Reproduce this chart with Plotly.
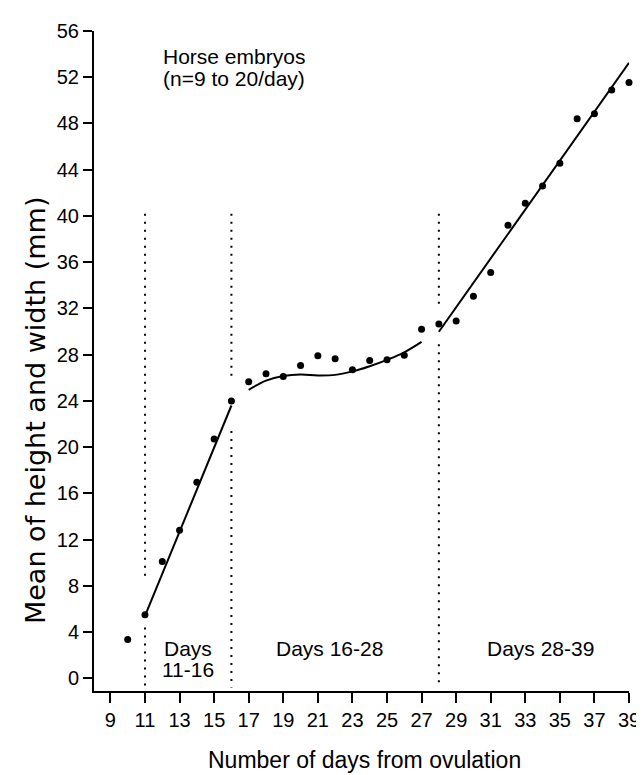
import plotly.graph_objects as go

# Mean embryo size per day
days = [10, 11, 12, 13, 14, 15, 16, 17, 18, 19, 20, 21, 22, 23, 24, 25, 26, 27,
        28, 29, 30, 31, 32, 33, 34, 35, 36, 37, 38, 39]
mean_size = [3.35, 5.5, 10.1, 12.8, 16.95, 20.7, 24.0, 25.65, 26.35, 26.1, 27.05, 27.9,
             27.65, 26.7, 27.5, 27.55, 27.95, 30.2, 30.65, 30.9, 33.05, 35.1, 39.2, 41.1,
             42.6, 44.55, 48.4, 48.85, 50.9, 51.55]

# Fitted lines/curve
fit1_days = [11, 16]
fit1_vals = [5.4, 23.6]
fit2_days = [17, 18, 19, 20, 21, 22, 23, 24, 25, 26, 27]
fit2_vals = [24.96, 25.75, 26.15, 26.28, 26.2, 26.25, 26.55, 27.0, 27.55, 28.2, 29.1]
fit3_days = [28, 39]
fit3_vals = [29.98, 53.25]

# Period boundaries (dotted lines): top, gap bottom, gap top, bottom
bound_days = [11, 16, 28]
bound_top = 40.2
bound_gap_low = [4.4, 21.4, 28.9]
bound_gap_high = [8.6, 26.1, 32.3]
bound_bottom = -0.8

x_ticks = list(range(9, 40, 2))
y_ticks = list(range(0, 57, 4))

FONT = "Liberation Sans, Arial, Helvetica, sans-serif"
YFONT = "DejaVu Sans, Liberation Sans, sans-serif"

fig = go.Figure()

# dotted boundary lines
for d, lo, hi in zip(bound_days, bound_gap_low, bound_gap_high):
    fig.add_trace(go.Scatter(
        x=[d, d, None, d, d], y=[bound_top, hi, None, lo, bound_bottom],
        mode="lines", line=dict(color="black", width=2, dash="2px,6px"),
        hoverinfo="skip", showlegend=False))

for fx, fy, shape in [(fit1_days, fit1_vals, "linear"), (fit2_days, fit2_vals, "spline"),
                      (fit3_days, fit3_vals, "linear")]:
    fig.add_trace(go.Scatter(x=fx, y=fy, mode="lines", line=dict(color="black", width=2, shape=shape),
                             showlegend=False, cliponaxis=False))

fig.add_trace(go.Scatter(x=days, y=mean_size, mode="markers",
                         marker=dict(color="black", size=7), showlegend=False, cliponaxis=False))

axis_common = dict(showline=True, linecolor="black", linewidth=2, ticks="outside",
                   tickwidth=2, tickcolor="black", showgrid=False, zeroline=False,
                   tickfont=dict(family=FONT, size=20, color="black"))

fig.update_xaxes(range=[8.05, 39], tickvals=x_ticks, ticklen=10, **axis_common)
fig.update_yaxes(range=[-1.1, 56], tickvals=y_ticks, ticklen=9, **axis_common)

TXT = dict(family=FONT, size=21, color="black")
ann = []
ann.append(dict(x=11.9, y=53.8, xref="x", yref="y", text="Horse embryos", showarrow=False,
                xanchor="left", yanchor="middle", font=TXT))
ann.append(dict(x=11.9, y=51.9, xref="x", yref="y", text="(n=9 to 20/day)", showarrow=False,
                xanchor="left", yanchor="middle", font=TXT))
ann.append(dict(x=13.5, y=2.6, xref="x", yref="y", text="Days", showarrow=False,
                xanchor="center", yanchor="middle", font=TXT))
ann.append(dict(x=13.5, y=0.72, xref="x", yref="y", text="11-16", showarrow=False,
                xanchor="center", yanchor="middle", font=TXT))
ann.append(dict(x=21.7, y=2.6, xref="x", yref="y", text="Days 16-28", showarrow=False,
                xanchor="center", yanchor="middle", font=TXT))
ann.append(dict(x=33.9, y=2.6, xref="x", yref="y", text="Days 28-39", showarrow=False,
                xanchor="center", yanchor="middle", font=TXT))
# axis titles (pixel positions converted below)
ann.append(dict(x=362, y=752, xref="paper", yref="paper", text="Number of days from ovulation",
                showarrow=False, xanchor="center", yanchor="middle",
                font=dict(family=FONT, size=23, color="black")))
ann.append(dict(x=27, y=402, xref="paper", yref="paper", text="Mean of height and width (mm)",
                showarrow=False, textangle=-90, xanchor="center", yanchor="middle",
                font=dict(family=YFONT, size=27, color="black")))

L, R, T, B = 86, 12, 21, 92
W, H = 644, 775
pw, ph = W - L - R, H - T - B
for a in ann:
    if a["xref"] == "paper":
        a["x"] = (a["x"] - L) / pw
        a["y"] = (H - B - a["y"]) / ph

fig.update_layout(width=W, height=H, margin=dict(l=L, r=R, t=T, b=B),
                  plot_bgcolor="white", paper_bgcolor="white", annotations=ann,
                  font=dict(family=FONT, color="black"))

fig.write_html("out.html")
